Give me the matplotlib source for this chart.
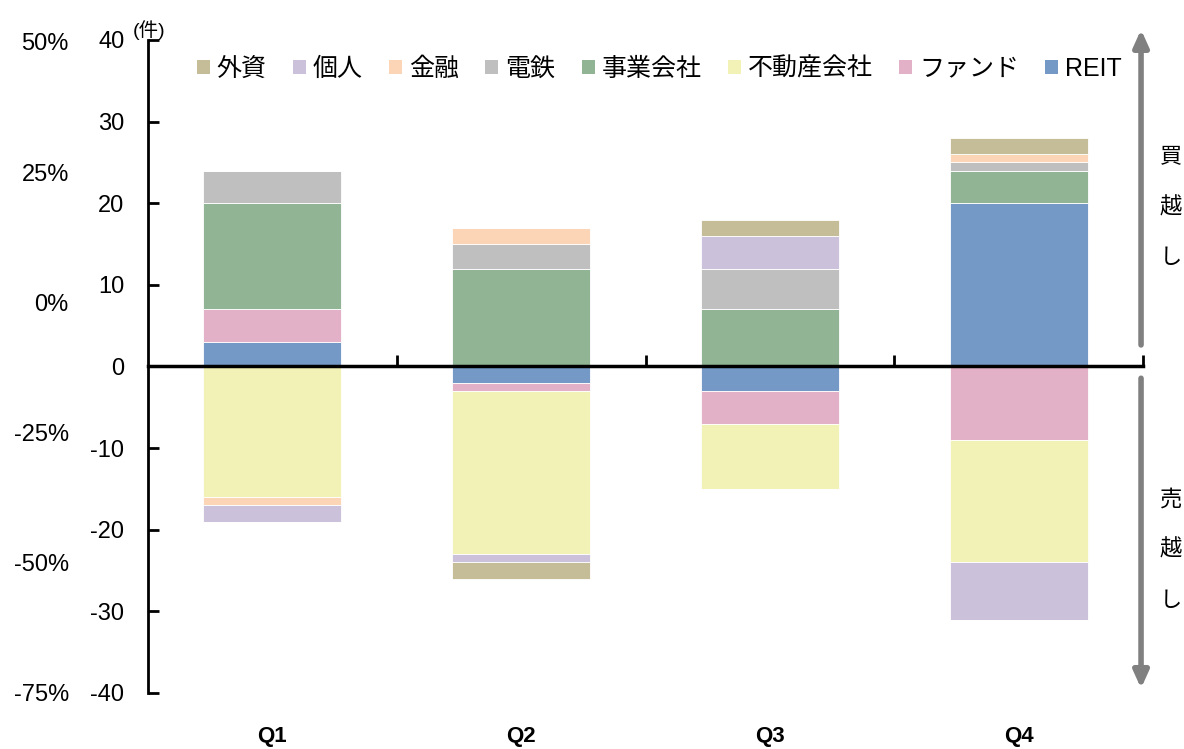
import matplotlib
matplotlib.use("Agg")
import matplotlib.pyplot as plt
from matplotlib.patches import Patch
import numpy as np

plt.rcParams['font.family'] = ['Liberation Sans', 'Noto Sans CJK JP', 'DejaVu Sans']
plt.rcParams['axes.unicode_minus'] = False

# Quarterly net transactions (件) by buyer/seller type; positive = net buy, negative = net sell
quarters = ['Q1', 'Q2', 'Q3', 'Q4']
reit = [3, -2, -3, 20]
fund = [4, -1, -4, -9]
developer = [-16, -20, -8, -15]
corporate = [13, 12, 7, 4]
railway = [4, 3, 5, 1]
finance = [-1, 2, 0, 1]
individual = [-2, -1, 4, -7]
foreign = [0, -2, 2, 2]

series_names = ['REIT', 'ファンド', '不動産会社', '事業会社', '電鉄', '金融', '個人', '外資']
series_values = [reit, fund, developer, corporate, railway, finance, individual, foreign]
series_colors = ['#7499C7', '#E2B1C7', '#F2F2B6', '#91B594', '#BFBFBF', '#FBD5B5', '#CCC1DA', '#C4BD97']

y_ticks = [-40, -30, -20, -10, 0, 10, 20, 30, 40]
pct_ticks = [-0.75, -0.5, -0.25, 0, 0.25, 0.5]
pct_labels = ['-75%', '-50%', '-25%', '0%', '25%', '50%']

fig = plt.figure(figsize=(11.84, 7.49), dpi=100)
ax = fig.add_axes([0.125, 0.0748, 0.8404, 0.8718])

x = np.arange(len(quarters))
bar_w = 0.555
pos_base = np.zeros(len(quarters))
neg_base = np.zeros(len(quarters))
for name, vals, col in zip(series_names, series_values, series_colors):
    v = np.array(vals, dtype=float)
    pos = np.where(v > 0, v, 0)
    neg = np.where(v < 0, v, 0)
    ax.bar(x, pos, bar_w, bottom=pos_base, color=col, edgecolor='white', linewidth=0.6, zorder=2)
    ax.bar(x, neg, bar_w, bottom=neg_base, color=col, edgecolor='white', linewidth=0.6, zorder=2)
    pos_base += pos
    neg_base += neg

ax.set_xlim(-0.5, len(quarters) - 0.5)
ax.set_ylim(-40, 40)
ax.set_yticks(y_ticks)
ax.tick_params(axis='y', direction='in', length=8, width=2, labelsize=17, pad=17)

for s in ['top', 'right']:
    ax.spines[s].set_visible(False)
ax.spines['left'].set_linewidth(2)
ax.spines['bottom'].set_position(('data', 0))
ax.spines['bottom'].set_linewidth(2.5)
ax.spines['bottom'].set_zorder(3)

# category boundary ticks on the zero line
ax.set_xticks([])
ax.set_xticks(np.arange(len(quarters)) + 0.5, minor=True)
ax.tick_params(axis='x', which='minor', direction='in', length=8, width=2)

# quarter labels along the bottom edge
secx = ax.secondary_xaxis('bottom')
secx.set_xticks(x, quarters)
secx.spines['bottom'].set_visible(False)
secx.tick_params(axis='x', length=0, pad=24)
for lbl in secx.get_xticklabels():
    lbl.set_fontweight('bold')
    lbl.set_fontsize(16)

# percentage scale drawn to the left of the count scale
ax2 = ax.twinx()
ax2.set_ylim(-0.7424, 0.5038)
ax2.set_yticks(pct_ticks, pct_labels)
ax2.yaxis.set_ticks_position('left')
ax2.yaxis.set_label_position('left')
ax2.tick_params(axis='y', length=0, pad=57, labelsize=17)
for s in ax2.spines.values():
    s.set_visible(False)

ax.text(-0.015, 1.0, '(件)', transform=ax.transAxes, fontsize=14, ha='left', va='bottom')

handles = [Patch(facecolor=c, edgecolor='none') for c in series_colors[::-1]]
ax.legend(handles, series_names[::-1], ncol=8, loc='center', bbox_to_anchor=(0.514, 0.956),
          frameon=False, fontsize=18, handlelength=0.52, handleheight=0.52,
          handletextpad=0.28, columnspacing=1.05, borderaxespad=0)

# buy / sell direction arrows
arrow_kw = dict(arrowstyle='-|>,head_width=0.45,head_length=1.0', color='#808080', lw=4,
                shrinkA=0, shrinkB=0)
ax.annotate('', xy=(0.998, 1.016), xytext=(0.998, 0.533), xycoords='axes fraction',
            arrowprops=arrow_kw, annotation_clip=False)
ax.annotate('', xy=(0.998, 0.007), xytext=(0.998, 0.482), xycoords='axes fraction',
            arrowprops=arrow_kw, annotation_clip=False)
ax.text(1.028, 0.744, '買\n越\nし', transform=ax.transAxes, fontsize=16, ha='center',
        va='center', linespacing=2.8)
ax.text(1.028, 0.219, '売\n越\nし', transform=ax.transAxes, fontsize=16, ha='center',
        va='center', linespacing=2.8)

fig.savefig('out.png', dpi=100)
